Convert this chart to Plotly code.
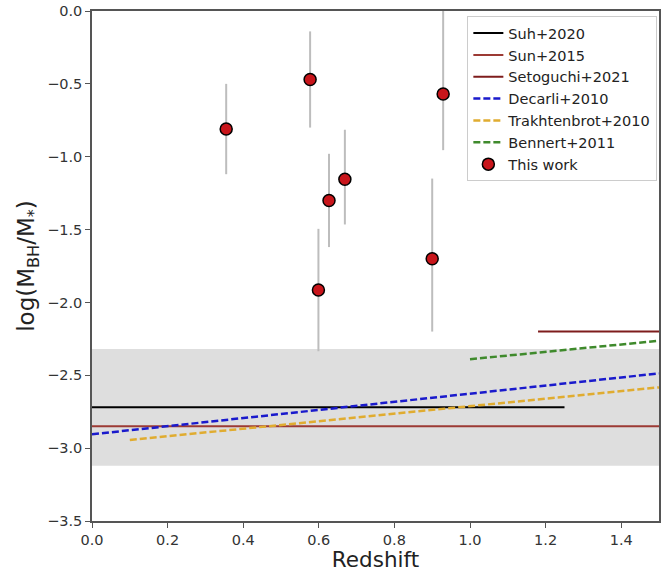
import plotly.graph_objects as go

# Black-hole-to-stellar mass ratio measurements (this work)
z_obs = [0.355, 0.577, 0.599, 0.627, 0.669, 0.900, 0.929]
ratio_obs = [-0.81, -0.47, -1.915, -1.30, -1.155, -1.70, -0.57]
err_plus = [0.31, 0.33, 0.42, 0.32, 0.34, 0.55, 0.65]
err_minus = [0.31, 0.33, 0.42, 0.32, 0.31, 0.50, 0.385]

# Literature relations (redshift endpoints, log ratio endpoints)
suh_z = [0.0, 1.25]
suh_r = [-2.72, -2.72]
sun_z = [0.0, 1.5]
sun_r = [-2.85, -2.85]
seto_z = [1.18, 1.5]
seto_r = [-2.20, -2.20]
decarli_z = [0.0, 1.5]
decarli_r = [-2.905, -2.487]
trakh_z = [0.1, 1.5]
trakh_r = [-2.944, -2.583]
bennert_z = [1.0, 1.5]
bennert_r = [-2.39, -2.263]

# Local relation scatter band
band_center = -2.72
band_half = 0.40

fig = go.Figure()

fig.add_shape(type="rect", xref="x", yref="y", x0=0, x1=1.5,
              y0=band_center - band_half, y1=band_center + band_half,
              fillcolor="#dedede", line_width=0, layer="below")

dash = "7px,3px"
fig.add_trace(go.Scatter(x=suh_z, y=suh_r, mode="lines", name="Suh+2020",
                         line=dict(color="black", width=2)))
fig.add_trace(go.Scatter(x=sun_z, y=sun_r, mode="lines", name="Sun+2015",
                         line=dict(color="#9c3a34", width=2)))
fig.add_trace(go.Scatter(x=seto_z, y=seto_r, mode="lines", name="Setoguchi+2021",
                         line=dict(color="#7e1c1c", width=2)))
fig.add_trace(go.Scatter(x=decarli_z, y=decarli_r, mode="lines", name="Decarli+2010",
                         line=dict(color="#1a1acc", width=2.5, dash=dash)))
fig.add_trace(go.Scatter(x=trakh_z, y=trakh_r, mode="lines", name="Trakhtenbrot+2010",
                         line=dict(color="#e0ac30", width=2.5, dash=dash)))
fig.add_trace(go.Scatter(x=bennert_z, y=bennert_r, mode="lines", name="Bennert+2011",
                         line=dict(color="#3f8a2c", width=2.5, dash=dash)))
fig.add_trace(go.Scatter(
    x=z_obs, y=ratio_obs, mode="markers", name="This work",
    marker=dict(color="#c8151b", size=12, line=dict(color="black", width=1.5)),
    error_y=dict(type="data", array=err_plus, arrayminus=err_minus,
                 color="#bdbdbd", thickness=2, width=0),
))

axis_common = dict(
    showgrid=False, zeroline=False, showline=True, linecolor="#555555",
    linewidth=1.5, mirror=True, ticks="outside", ticklen=5, tickwidth=1.2,
    tickcolor="#555555", tickfont=dict(family="DejaVu Sans", size=14.5, color="#333333"),
    automargin=False,
)

fig.update_xaxes(range=[0, 1.5], dtick=0.2, tickformat=".1f",
                 title=dict(text="Redshift", font=dict(family="DejaVu Sans", size=21.5, color="#222222"),
                            standoff=4),
                 **axis_common)
fig.update_yaxes(range=[-3.5, 0], dtick=0.5, tickformat=".1f",
                 title=dict(text="log(M<sub>BH</sub>/M<sub>*</sub>)",
                            font=dict(family="DejaVu Sans", size=23, color="#222222"),
                            standoff=6),
                 **axis_common)

fig.update_layout(
    width=671, height=572,
    margin=dict(l=92, r=12, t=11, b=51),
    plot_bgcolor="white", paper_bgcolor="white",
    font=dict(family="DejaVu Sans", color="#222222"),
    legend=dict(x=0.662, y=0.99, xanchor="left", yanchor="top",
                bgcolor="rgba(255,255,255,0.9)", bordercolor="#cccccc", borderwidth=1,
                font=dict(family="DejaVu Sans", size=14.5, color="#222222"),
                itemwidth=30, tracegroupgap=0),
    showlegend=True,
)

fig.write_html("out.html")
